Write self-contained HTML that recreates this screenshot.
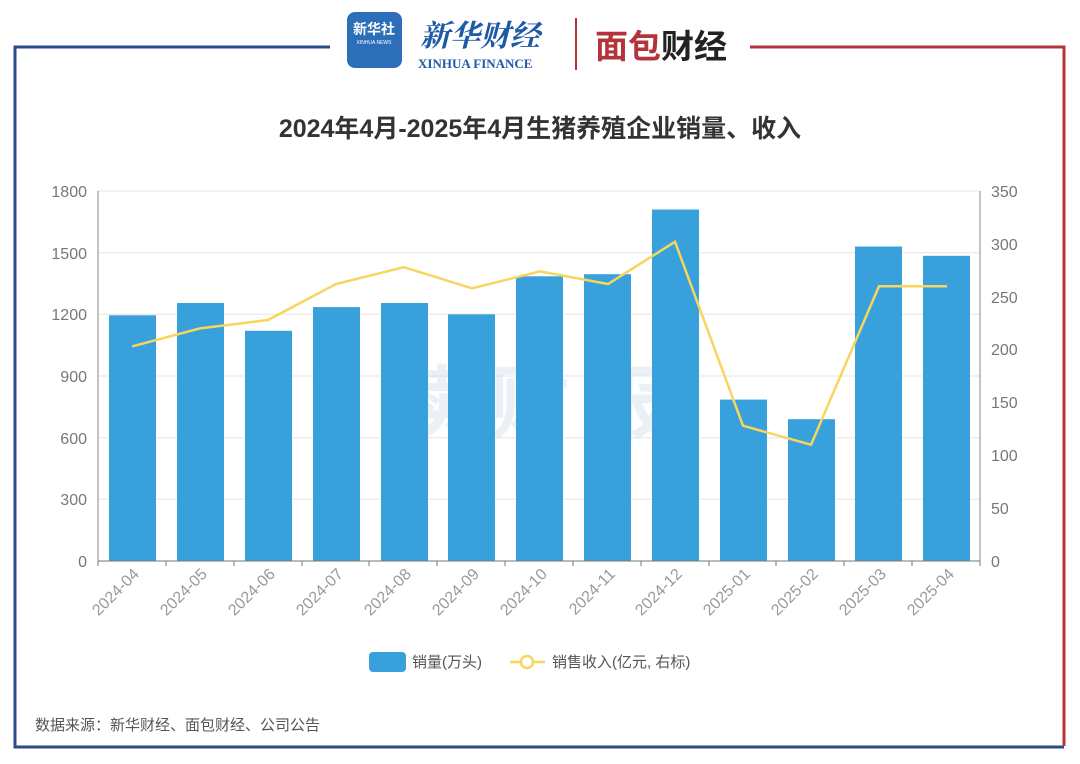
<!DOCTYPE html>
<html><head><meta charset="utf-8"><style>
body{margin:0;background:#fff;}
svg{display:block;font-family:"Liberation Sans","Noto Sans CJK SC",sans-serif;}
</style></head><body>
<svg width="1080" height="764" viewBox="0 0 1080 764" xmlns="http://www.w3.org/2000/svg">
<rect width="1080" height="764" fill="#fff"/>
<!-- frame -->
<polyline points="330,47 15,47 15,747 1064,747" fill="none" stroke="#2a4a88" stroke-width="3"/>
<polyline points="750,47 1064,47 1064,746" fill="none" stroke="#b3343a" stroke-width="3"/>
<!-- logos -->
<rect x="347" y="12" width="55" height="56" rx="8" fill="#2c6fb8"/>
<text x="374" y="34" font-size="14" fill="#fff" text-anchor="middle" font-weight="bold">新华社</text>
<text x="374" y="44" font-size="5" fill="#fff" text-anchor="middle">XINHUA NEWS</text>
<text x="420" y="46" font-size="30" fill="#1f5aa6" font-family="'Noto Serif CJK SC',serif" font-style="italic" font-weight="bold">新华财经</text>
<text x="418" y="68" font-size="13" fill="#1f5aa6" font-family="'Liberation Serif',serif" font-weight="bold">XINHUA FINANCE</text>
<line x1="576" y1="18" x2="576" y2="70" stroke="#b3343a" stroke-width="2"/>
<text x="595" y="58" font-size="33" fill="#b3343a" font-weight="bold">面包<tspan fill="#222">财经</tspan></text>
<!-- title -->
<text x="540" y="137" font-size="25" font-weight="bold" fill="#333" text-anchor="middle">2024年4月-2025年4月生猪养殖企业销量、收入</text>
<!-- grid -->
<g stroke="#e6e6e6" stroke-width="1">
<line x1="98" y1="191" x2="980" y2="191"/><line x1="98" y1="252.7" x2="980" y2="252.7"/>
<line x1="98" y1="314.3" x2="980" y2="314.3"/><line x1="98" y1="376" x2="980" y2="376"/>
<line x1="98" y1="437.7" x2="980" y2="437.7"/><line x1="98" y1="499.3" x2="980" y2="499.3"/>
</g>
<!-- watermark -->
<text x="540" y="432" font-size="80" font-weight="bold" fill="#c8d6ea" opacity="0.35" text-anchor="middle" letter-spacing="20">读财报</text>
<!-- bars -->
<g fill="#38a0da">
<rect x="109" y="315.3" width="47" height="245.7"/>
<rect x="177" y="303" width="47" height="258"/>
<rect x="245" y="330.8" width="47" height="230.2"/>
<rect x="313" y="307.1" width="47" height="253.9"/>
<rect x="381" y="303" width="47" height="258"/>
<rect x="448" y="314.3" width="47" height="246.7"/>
<rect x="516" y="276.3" width="47" height="284.7"/>
<rect x="584" y="274.2" width="47" height="286.8"/>
<rect x="652" y="209.5" width="47" height="351.5"/>
<rect x="720" y="399.6" width="47" height="161.4"/>
<rect x="788" y="419.2" width="47" height="141.8"/>
<rect x="855" y="246.5" width="47" height="314.5"/>
<rect x="923" y="255.8" width="47" height="305.2"/>
</g>
<!-- axes -->
<line x1="98" y1="191" x2="98" y2="561" stroke="#888"/>
<line x1="980" y1="191" x2="980" y2="561" stroke="#888"/>
<line x1="98" y1="561" x2="980" y2="561" stroke="#777"/>
<g stroke="#777">
<line x1="98" y1="561" x2="98" y2="566"/><line x1="166" y1="561" x2="166" y2="566"/><line x1="234" y1="561" x2="234" y2="566"/><line x1="302" y1="561" x2="302" y2="566"/><line x1="369" y1="561" x2="369" y2="566"/><line x1="437" y1="561" x2="437" y2="566"/><line x1="505" y1="561" x2="505" y2="566"/><line x1="573" y1="561" x2="573" y2="566"/><line x1="641" y1="561" x2="641" y2="566"/><line x1="709" y1="561" x2="709" y2="566"/><line x1="776" y1="561" x2="776" y2="566"/><line x1="844" y1="561" x2="844" y2="566"/><line x1="912" y1="561" x2="912" y2="566"/><line x1="980" y1="561" x2="980" y2="566"/>
</g>
<!-- line -->
<polyline fill="none" stroke="#f7d55e" stroke-width="2.5" points="132,346.4 200,328.4 268,320 336,284 404,267.2 472,288.3 540,271.4 608,284 675,241.8 743,425.7 811,444.7 879,286.2 947,286.2"/>
<!-- y labels left -->
<g font-size="16" fill="#777" text-anchor="end">
<text x="87" y="197">1800</text><text x="87" y="259">1500</text><text x="87" y="320">1200</text><text x="87" y="382">900</text><text x="87" y="444">600</text><text x="87" y="505">300</text><text x="87" y="567">0</text>
</g>
<g font-size="16" fill="#777">
<text x="991" y="197">350</text><text x="991" y="250">300</text><text x="991" y="303">250</text><text x="991" y="355">200</text><text x="991" y="408">150</text><text x="991" y="461">100</text><text x="991" y="514">50</text><text x="991" y="567">0</text>
</g>
<!-- x labels -->
<g font-size="16" fill="#999" text-anchor="end">
<text transform="translate(140,575) rotate(-45)">2024-04</text>
<text transform="translate(208,575) rotate(-45)">2024-05</text>
<text transform="translate(276,575) rotate(-45)">2024-06</text>
<text transform="translate(344,575) rotate(-45)">2024-07</text>
<text transform="translate(412,575) rotate(-45)">2024-08</text>
<text transform="translate(480,575) rotate(-45)">2024-09</text>
<text transform="translate(548,575) rotate(-45)">2024-10</text>
<text transform="translate(616,575) rotate(-45)">2024-11</text>
<text transform="translate(683,575) rotate(-45)">2024-12</text>
<text transform="translate(751,575) rotate(-45)">2025-01</text>
<text transform="translate(819,575) rotate(-45)">2025-02</text>
<text transform="translate(887,575) rotate(-45)">2025-03</text>
<text transform="translate(955,575) rotate(-45)">2025-04</text>
</g>
<!-- legend -->
<rect x="369" y="652" width="37" height="20" rx="4" fill="#38a0da"/>
<text x="412" y="667" font-size="15" fill="#555">销量(万头)</text>
<line x1="510" y1="662" x2="545" y2="662" stroke="#f7d55e" stroke-width="2.5"/>
<circle cx="527" cy="662" r="6" fill="#fff" stroke="#f7d55e" stroke-width="2.5"/>
<text x="552" y="667" font-size="15" fill="#555">销售收入(亿元, 右标)</text>
<!-- source -->
<text x="35" y="730" font-size="15" fill="#555">数据来源：新华财经、面包财经、公司公告</text>
</svg>
</body></html>
